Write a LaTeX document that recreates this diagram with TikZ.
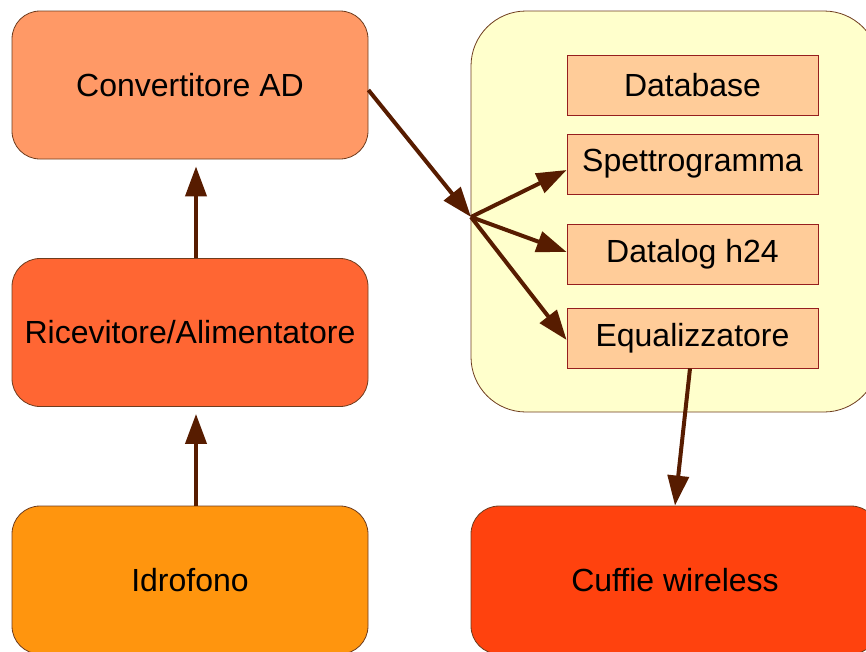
\documentclass[tikz,border=0pt]{standalone}
\usepackage{fontspec}
\setmainfont{Liberation Sans}
\usepackage{tikz}
\usetikzlibrary{arrows.meta}
\definecolor{convcol}{RGB}{255,153,102}
\definecolor{ricevcol}{RGB}{255,102,51}
\definecolor{idrocol}{RGB}{255,149,14}
\definecolor{cuffiecol}{RGB}{255,66,14}
\definecolor{softcol}{RGB}{255,255,204}
\definecolor{partcol}{RGB}{255,204,153}
\definecolor{partedge}{RGB}{150,30,30}
\definecolor{edgecol}{RGB}{110,60,30}
\definecolor{flowcol}{RGB}{87,28,0}

\begin{document}
\begin{tikzpicture}[x=1pt, y=-1pt,
    block/.style={draw=edgecol, line width=0.8pt, rounded corners=28pt, minimum width=356pt, minimum height=148pt, font=\fontsize{32}{38}\selectfont},
    part/.style={draw=partedge, fill=partcol, line width=0.8pt, minimum width=251pt, minimum height=60pt, font=\fontsize{32}{38}\selectfont},
    flow/.style={draw=flowcol, line width=4pt, -{Triangle[length=30pt, width=21pt]}}]
    % Fix the page to the picture size
    \useasboundingbox (0,0) rectangle (866,651);
    \clip (0,0) rectangle (866,651);

    % Chain on the left
    \node[block, fill=convcol] (conv) at (190,85) {Convertitore AD};
    \node[block, fill=ricevcol] (ricev) at (190,332.5) {Ricevitore/Alimentatore};
    \node[block, fill=idrocol] (idro) at (190,580) {Idrofono};

    % Software panel with its parts
    \node[draw=edgecol, line width=0.8pt, fill=softcol, rounded corners=55pt, minimum width=408pt, minimum height=401pt] (soft) at (675,211.5) {};
    \node[part] (db) at (692.5,85) {Database};
    \node[part] (spet) at (692.5,164) {Spettrogramma};
    \node[part] (dlog) at (692.5,254) {Datalog h24};
    \node[part] (equa) at (692.5,338) {Equalizzatore};
    \coordinate (hub) at (471,217);

    % Output
    \node[block, fill=cuffiecol, minimum width=408pt] (cuffie) at (675,580) {Cuffie wireless};

    % Draw the arrows
    \draw[flow] ([xshift=6pt]idro.north) -- ([xshift=6pt, yshift=-7pt]ricev.south);
    \draw[flow] ([xshift=6pt]ricev.north) -- ([xshift=6pt, yshift=-7pt]conv.south);
    \draw[flow] ([yshift=-5pt]conv.east) -- (hub);
    \draw[flow] (hub) -- ([yshift=-6pt]spet.west); % fan out
    \draw[flow] (hub) -- ([yshift=2pt]dlog.west);
    \draw[flow] (hub) -- ([yshift=-2pt]equa.west);
    \draw[flow] ([xshift=-2.5pt]equa.south) -- (cuffie.north);
\end{tikzpicture}
\end{document}
